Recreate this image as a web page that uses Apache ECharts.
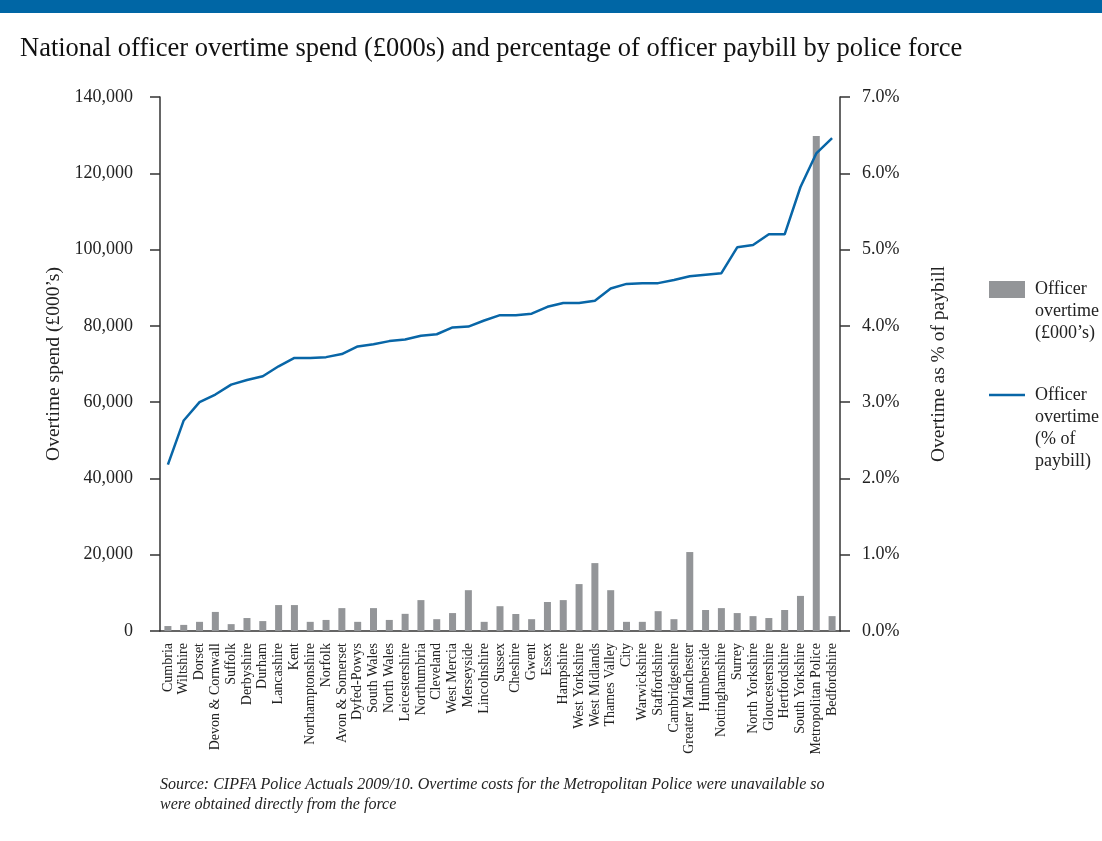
<!DOCTYPE html>
<html>
<head>
<meta charset="utf-8">
<title>Officer overtime by police force</title>
<script src="https://cdn.jsdelivr.net/npm/echarts@6/dist/echarts.min.js"></script>
<style>
    html, body {
        margin: 0;
        padding: 0;
        background: #fff;
    }
    #chart {
        width: 1102px;
        height: 841px;
    }
</style>
</head>
<body>
<div id="chart"></div>
<script>
// forces, in the order shown (sorted by % of paybill)
const forces = [
    'Cumbria', 'Wiltshire', 'Dorset', 'Devon & Cornwall', 'Suffolk', 'Derbyshire', 'Durham',
    'Lancashire', 'Kent', 'Northamptonshire', 'Norfolk', 'Avon & Somerset', 'Dyfed-Powys',
    'South Wales', 'North Wales', 'Leicestershire', 'Northumbria', 'Cleveland', 'West Mercia',
    'Merseyside', 'Lincolnshire', 'Sussex', 'Cheshire', 'Gwent', 'Essex', 'Hampshire',
    'West Yorkshire', 'West Midlands', 'Thames Valley', 'City', 'Warwickshire', 'Staffordshire',
    'Cambridgeshire', 'Greater Manchester', 'Humberside', 'Nottinghamshire', 'Surrey',
    'North Yorkshire', 'Gloucestershire', 'Hertfordshire', 'South Yorkshire',
    'Metropolitan Police', 'Bedfordshire'
]

// overtime spend, £000s
const overtimeSpend = [
    1300, 1600, 2400, 5000, 1800, 3400, 2600,
    6800, 6800, 2400, 2900, 6000, 2400,
    6000, 2900, 4500, 8100, 3100, 4700,
    10700, 2400, 6500, 4450, 3100, 7600, 8100,
    12300, 17800, 10700, 2400, 2400, 5200,
    3100, 20700, 5500, 6000, 4700,
    3900, 3400, 5500, 9200,
    129800, 3900
]

// overtime as % of paybill
const overtimePct = [
    2.18, 2.76, 3.00, 3.10, 3.23, 3.29, 3.34,
    3.47, 3.58, 3.58, 3.59, 3.63, 3.73,
    3.76, 3.80, 3.82, 3.87, 3.89, 3.98,
    3.99, 4.07, 4.14, 4.14, 4.16, 4.25, 4.30,
    4.30, 4.33, 4.49, 4.55, 4.56, 4.56,
    4.60, 4.65, 4.67, 4.69, 5.03,
    5.06, 5.20, 5.20, 5.82,
    6.26, 6.46
]

const serif = '"Liberation Serif", "DejaVu Serif", serif'
const axisColor = '#333'
const barColor = '#939598'
const lineColor = '#0866a7'

const chart = echarts.init(document.getElementById('chart'))
chart.setOption({
    animation: false,
    textStyle: { fontFamily: serif },
    grid: {
        left: 160,
        right: 262,
        top: 97,
        bottom: 210,
        containLabel: false
    },
    xAxis: {
        type: 'category',
        data: forces,
        boundaryGap: true,
        axisLine: { lineStyle: { color: axisColor, width: 1.5 } },
        axisTick: { show: false },
        axisLabel: {
            rotate: 90,
            interval: 0,
            margin: 12,
            fontSize: 14,
            color: '#222',
            fontFamily: serif
        }
    },
    yAxis: [{
        type: 'value',
        min: 0,
        max: 140000,
        interval: 20000,
        name: 'Overtime spend (£000’s)',
        nameLocation: 'middle',
        nameRotate: 90,
        nameGap: 91,
        nameTextStyle: { fontSize: 19.5, color: '#222', fontFamily: serif },
        axisLine: { show: true, lineStyle: { color: axisColor, width: 1.5 } },
        axisTick: { show: true, length: 10, lineStyle: { color: axisColor, width: 1.5 } },
        splitLine: { show: false },
        axisLabel: {
            margin: 27,
            fontSize: 18,
            color: '#222',
            fontFamily: serif,
            formatter: v => v.toLocaleString('en-GB')
        }
    }, {
        type: 'value',
        position: 'right',
        min: 0,
        max: 7,
        interval: 1,
        name: 'Overtime as % of paybill',
        nameLocation: 'middle',
        nameRotate: 90,
        nameGap: 89,
        nameTextStyle: { fontSize: 19.5, color: '#222', fontFamily: serif },
        axisLine: { show: true, lineStyle: { color: axisColor, width: 1.5 } },
        axisTick: { show: true, length: 10, lineStyle: { color: axisColor, width: 1.5 } },
        splitLine: { show: false },
        axisLabel: {
            margin: 22,
            fontSize: 18,
            color: '#222',
            fontFamily: serif,
            formatter: v => v.toFixed(1) + '%'
        }
    }],
    series: [{
        name: 'Officer overtime (£000’s)',
        type: 'bar',
        yAxisIndex: 0,
        barWidth: 7,
        itemStyle: { color: barColor },
        data: overtimeSpend
    }, {
        name: 'Officer overtime (% of paybill)',
        type: 'line',
        yAxisIndex: 1,
        symbol: 'none',
        lineStyle: { color: lineColor, width: 2.5 },
        data: overtimePct
    }],
    graphic: [
        // top band
        { type: 'rect', left: 0, top: 0, shape: { width: 1102, height: 13 }, style: { fill: '#0066a5' } },
        // title
        {
            type: 'text', left: 20, top: 36,
            style: {
                text: 'National officer overtime spend (£000s) and percentage of officer paybill by police force',
                font: '26.5px ' + serif, fill: '#111'
            }
        },
        // legend
        { type: 'rect', left: 989, top: 281, shape: { width: 36, height: 17 }, style: { fill: barColor } },
        {
            type: 'text', left: 1035, top: 278,
            style: { text: 'Officer\novertime\n(£000’s)', font: '18px ' + serif, lineHeight: 22, fill: '#222' }
        },
        { type: 'line', shape: { x1: 989, y1: 395, x2: 1025, y2: 395 }, style: { stroke: lineColor, lineWidth: 2.5 } },
        {
            type: 'text', left: 1035, top: 384,
            style: { text: 'Officer\novertime\n(% of\npaybill)', font: '18px ' + serif, lineHeight: 22, fill: '#222' }
        },
        // source note
        {
            type: 'text', left: 160, top: 775,
            style: {
                text: 'Source: CIPFA Police Actuals 2009/10. Overtime costs for the Metropolitan Police were unavailable so\nwere obtained directly from the force',
                font: 'italic 16px ' + serif, lineHeight: 20, fill: '#222'
            }
        }
    ]
})
</script>
</body>
</html>
